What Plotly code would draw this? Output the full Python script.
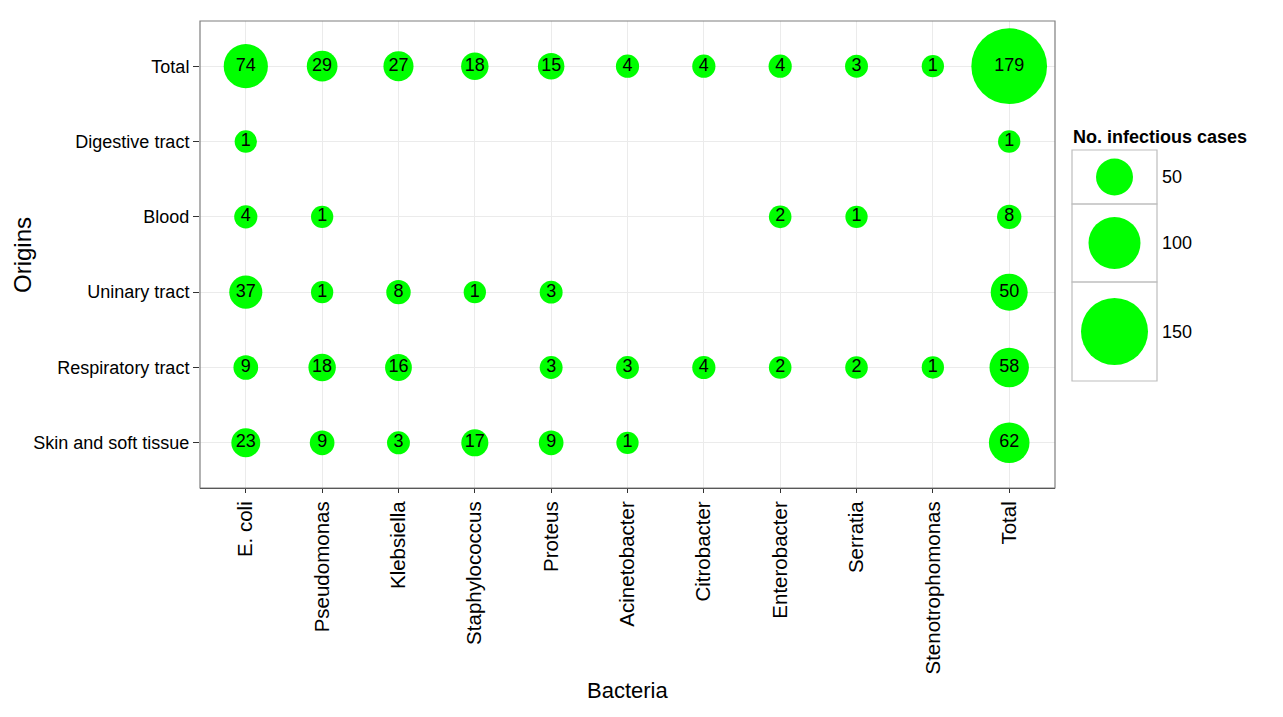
import plotly.graph_objects as go

bacteria = ["E. coli", "Pseudomonas", "Klebsiella", "Staphylococcus", "Proteus",
            "Acinetobacter", "Citrobacter", "Enterobacter", "Serratia",
            "Stenotrophomonas", "Total"]
origins = ["Skin and soft tissue", "Respiratory tract", "Uninary tract", "Blood",
           "Digestive tract", "Total"]

skin = [23, 9, 3, 17, 9, 1, None, None, None, None, 62]
respiratory = [9, 18, 16, None, 3, 3, 4, 2, 2, 1, 58]
urinary = [37, 1, 8, 1, 3, None, None, None, None, None, 50]
blood = [4, 1, None, None, None, None, None, 2, 1, None, 8]
digestive = [1, None, None, None, None, None, None, None, None, None, 1]
total = [74, 29, 27, 18, 15, 4, 4, 4, 3, 1, 179]

legend_values = [50, 100, 150]
legend_title = "No. infectious cases"

rows = [skin, respiratory, urinary, blood, digestive, total]

GREEN = "#00FF00"
FONT = "Liberation Sans, Arial, sans-serif"


def diam(v):
    return 22 + 0.30 * v


xs, ys, vs = [], [], []
for origin, row in zip(origins, rows):
    for b, v in zip(bacteria, row):
        if v is not None:
            xs.append(b)
            ys.append(origin)
            vs.append(v)

# page body has an 8px margin; work in target-pixel coordinates
OFF = 8
W, H = 1283, 717
PANEL_L, PANEL_R, PANEL_T, PANEL_B = 200, 1055, 21, 488
L = PANEL_L - OFF
T = PANEL_T - OFF
R = 20
B = H - (PANEL_B - OFF)
pw = W - L - R
ph = H - T - B


def px_x(px):
    return (px - OFF - L) / pw


def px_y(py):
    return (T + ph - (py - OFF)) / ph


fig = go.Figure()
fig.add_trace(go.Scatter(
    x=xs, y=ys, mode="markers+text",
    text=[str(v) for v in vs], textposition="middle center",
    textfont=dict(family=FONT, size=18, color="black"),
    marker=dict(size=[diam(v) for v in vs], sizemode="diameter", color=GREEN,
                line=dict(width=0), opacity=1),
    hoverinfo="skip", showlegend=False, cliponaxis=False,
))

# legend (as small separate axes)
cells_px = [(150, 204), (204, 282), (282, 381)]
leg_x0, leg_x1 = 1072, 1157
centers = [(a + b) / 2 for a, b in cells_px]
fig.add_trace(go.Scatter(
    x=[0] * len(legend_values), y=centers, mode="markers",
    marker=dict(size=[diam(v) for v in legend_values], sizemode="diameter",
                color=GREEN, line=dict(width=0), opacity=1),
    xaxis="x2", yaxis="y2", hoverinfo="skip", showlegend=False, cliponaxis=False,
))

shapes = []
for a, b in cells_px:
    shapes.append(dict(type="rect", xref="paper", yref="paper",
                       x0=px_x(leg_x0), x1=px_x(leg_x1), y0=px_y(b), y1=px_y(a),
                       line=dict(color="#bdbdbd", width=1.2), fillcolor="rgba(0,0,0,0)"))
# panel border
shapes.append(dict(type="rect", xref="paper", yref="paper",
                   x0=0, x1=px_x(PANEL_R), y0=0, y1=1,
                   line=dict(color="#7f7f7f", width=1.2), fillcolor="rgba(0,0,0,0)",
                   layer="above"))

annotations = [dict(text="<b>" + legend_title + "</b>", xref="paper", yref="paper",
                    x=px_x(1071), y=px_y(137), xanchor="left", yanchor="middle",
                    showarrow=False, font=dict(family=FONT, size=18, color="black"))]
for v, c in zip(legend_values, centers):
    annotations.append(dict(text=str(v), xref="paper", yref="paper",
                            x=px_x(1160), y=px_y(c), xanchor="left", yanchor="middle",
                            showarrow=False, font=dict(family=FONT, size=18, color="black")))
annotations.append(dict(text="Bacteria", xref="paper", yref="paper",
                        x=px_x((PANEL_L + PANEL_R) / 2), y=px_y(690),
                        xanchor="center", yanchor="middle", showarrow=False,
                        font=dict(family=FONT, size=22, color="black")))
annotations.append(dict(text="Origins", xref="paper", yref="paper",
                        x=px_x(22), y=px_y(255), textangle=-90,
                        xanchor="center", yanchor="middle", showarrow=False,
                        font=dict(family=FONT, size=24, color="black")))

fig.update_layout(
    width=W, height=H, margin=dict(l=L, r=R, t=T, b=B, autoexpand=False),
    paper_bgcolor="white", plot_bgcolor="white",
    font=dict(family=FONT, color="black"),
    xaxis=dict(domain=[0, px_x(PANEL_R)], type="category",
               categoryorder="array", categoryarray=bacteria,
               range=[-0.6, len(bacteria) - 0.4],
               showgrid=True, gridcolor="#ebebeb", gridwidth=1,
               zeroline=False, showline=True, linecolor="#333333", linewidth=1.2,
               ticks="outside", ticklen=4, tickcolor="#333333", tickwidth=1.2,
               tickangle=-90, tickfont=dict(family=FONT, size=20.5, color="black")),
    yaxis=dict(type="category", categoryorder="array", categoryarray=origins,
               range=[-0.6, len(origins) - 0.4],
               showgrid=True, gridcolor="#ebebeb", gridwidth=1,
               zeroline=False, showline=False,
               ticks="outside", ticklen=6, tickcolor="#333333", tickwidth=1.2,
               tickfont=dict(family=FONT, size=18, color="black")),
    xaxis2=dict(domain=[px_x(leg_x0), px_x(leg_x1)], range=[-1, 1], visible=False,
                anchor="y2", fixedrange=True),
    yaxis2=dict(domain=[px_y(381), px_y(150)], range=[381, 150], visible=False,
                anchor="x2", fixedrange=True),
    shapes=shapes, annotations=annotations,
)

fig.write_html("out.html")
